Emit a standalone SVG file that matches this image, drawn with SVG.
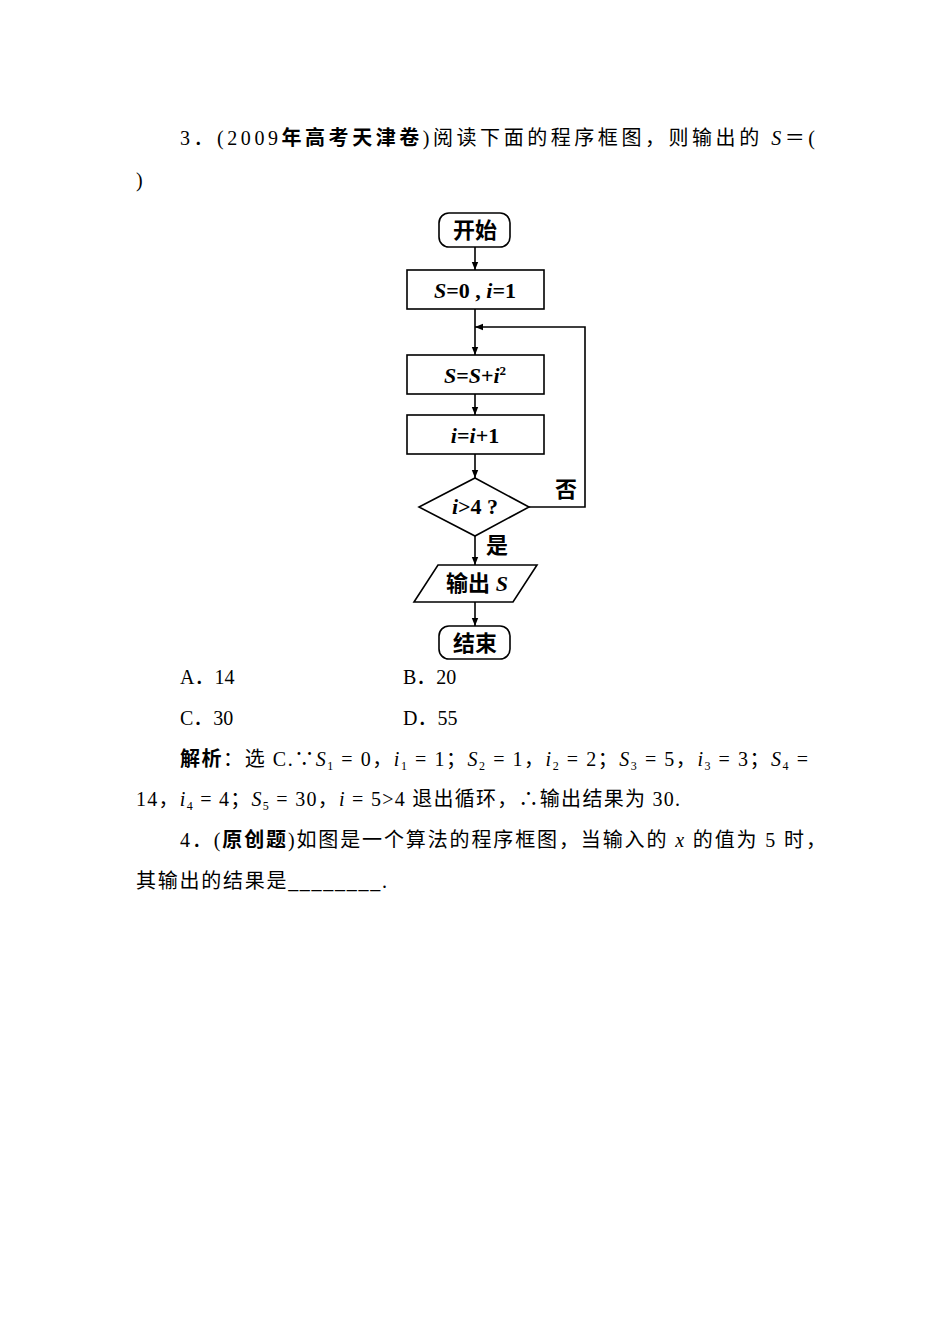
<svg xmlns="http://www.w3.org/2000/svg" width="950" height="1344" viewBox="0 0 950 1344">
<style>
.t{font-family:"Liberation Serif","Noto Sans CJK SC",serif;font-size:20px;fill:#000}
.f{font-family:"Liberation Serif","Noto Sans CJK SC",serif;font-size:22px;font-weight:bold;fill:#000}
.s{fill:#fff;stroke:#000;stroke-width:1.6}
.c{fill:none;stroke:#000;stroke-width:1.6;marker-end:url(#a)}
</style>
<defs><marker id="a" viewBox="0 0 10 10" refX="10" refY="5" markerWidth="8" markerHeight="8" orient="auto" markerUnits="userSpaceOnUse"><path d="M0,1 L10,5 L0,9 Z" fill="#000"/></marker></defs>
<rect width="950" height="1344" fill="#fff"/>
<text class="t" x="180" y="145" textLength="635" lengthAdjust="spacing">3．(2009<tspan font-weight="bold">年高考天津卷</tspan>)阅读下面的程序框图，则输出的 <tspan font-style="italic">S</tspan>＝(</text>
<text class="t" x="136" y="187">)</text>
<g id="start"><rect class="s" x="439" y="213" width="71" height="34" rx="10"/><text class="f" x="475" y="238" text-anchor="middle">开始</text></g>
<g id="init"><rect class="s" x="407" y="270" width="137" height="39"/><text class="f" x="475" y="298" text-anchor="middle"><tspan font-style="italic">S</tspan>=0 , <tspan font-style="italic">i</tspan>=1</text></g>
<g id="sum"><rect class="s" x="407" y="355" width="137" height="39"/><text class="f" x="475" y="383" text-anchor="middle"><tspan font-style="italic">S</tspan>=<tspan font-style="italic">S</tspan>+<tspan font-style="italic">i</tspan><tspan font-size="13" dy="-8">2</tspan></text></g>
<g id="inc"><rect class="s" x="407" y="415" width="137" height="39"/><text class="f" x="475" y="443" text-anchor="middle"><tspan font-style="italic">i</tspan>=<tspan font-style="italic">i</tspan>+1</text></g>
<g id="cond"><polygon class="s" points="475,478 529,507 475,536 419,507"/><text class="f" x="475" y="514" text-anchor="middle"><tspan font-style="italic">i</tspan>&gt;4 ?</text></g>
<g id="out"><polygon class="s" points="438,565 537,565 513,602 414,602"/><text class="f" x="477" y="591" text-anchor="middle">输出 <tspan font-style="italic">S</tspan></text></g>
<g id="end"><rect class="s" x="439" y="626" width="71" height="33" rx="10"/><text class="f" x="475" y="651" text-anchor="middle">结束</text></g>
<g id="connectors">
<line class="c" x1="475" y1="247" x2="475" y2="270"/>
<line class="c" x1="475" y1="309" x2="475" y2="355"/>
<line class="c" x1="475" y1="394" x2="475" y2="415"/>
<line class="c" x1="475" y1="454" x2="475" y2="478"/>
<line class="c" x1="475" y1="536" x2="475" y2="565"/>
<line class="c" x1="475" y1="602" x2="475" y2="626"/>
<polyline class="c" points="529,507 585,507 585,327 475,327"/>
<text class="f" x="566" y="497" text-anchor="middle">否</text>
<text class="f" x="497" y="553" text-anchor="middle">是</text>
</g>
<text class="t" x="180" y="684">A．14</text>
<text class="t" x="403" y="684">B．20</text>
<text class="t" x="180" y="725">C．30</text>
<text class="t" x="403" y="725">D．55</text>
<text class="t" x="180" y="766" textLength="628" lengthAdjust="spacing"><tspan font-weight="bold">解析</tspan>：选 C.∵<tspan font-style="italic">S</tspan><tspan font-size="12" dy="4">1</tspan><tspan dy="-4"> = 0，</tspan><tspan font-style="italic">i</tspan><tspan font-size="12" dy="4">1</tspan><tspan dy="-4"> = 1；</tspan><tspan font-style="italic">S</tspan><tspan font-size="12" dy="4">2</tspan><tspan dy="-4"> = 1，</tspan><tspan font-style="italic">i</tspan><tspan font-size="12" dy="4">2</tspan><tspan dy="-4"> = 2；</tspan><tspan font-style="italic">S</tspan><tspan font-size="12" dy="4">3</tspan><tspan dy="-4"> = 5，</tspan><tspan font-style="italic">i</tspan><tspan font-size="12" dy="4">3</tspan><tspan dy="-4"> = 3；</tspan><tspan font-style="italic">S</tspan><tspan font-size="12" dy="4">4</tspan><tspan dy="-4"> =</tspan></text>
<text class="t" x="136" y="806" textLength="544" lengthAdjust="spacing">14，<tspan font-style="italic">i</tspan><tspan font-size="12" dy="4">4</tspan><tspan dy="-4"> = 4；</tspan><tspan font-style="italic">S</tspan><tspan font-size="12" dy="4">5</tspan><tspan dy="-4"> = 30，</tspan><tspan font-style="italic">i</tspan> = 5&gt;4 退出循环，∴输出结果为 30.</text>
<text class="t" x="180" y="847" textLength="646" lengthAdjust="spacing">4．(<tspan font-weight="bold">原创题</tspan>)如图是一个算法的程序框图，当输入的 <tspan font-style="italic">x</tspan> 的值为 5 时，</text>
<text class="t" x="136" y="888" textLength="251" lengthAdjust="spacing">其输出的结果是________.</text>
</svg>
